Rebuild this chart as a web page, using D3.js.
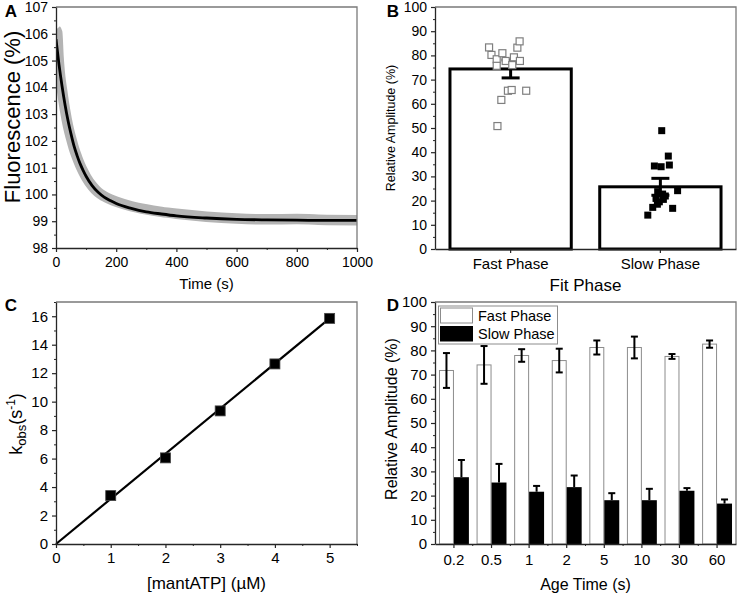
<!DOCTYPE html>
<html><head><meta charset="utf-8">
<script src="https://cdn.jsdelivr.net/npm/d3@7"></script>
<style>body{margin:0;background:#fff} svg{display:block;font-family:"Liberation Sans",Arial,sans-serif}</style>
</head><body><svg id="c" width="738" height="595"></svg>
<script>
// ---------- Panel A data ----------
const timeTicks = [0, 200, 400, 600, 800, 1000];
const timeMinor = [100, 300, 500, 700, 900];
const fluorTicks = [98, 99, 100, 101, 102, 103, 104, 105, 106, 107];
const fluorMinor = [98.5, 99.5, 100.5, 101.5, 102.5, 103.5, 104.5, 105.5, 106.5];
const rawTime  = [0, 4, 8, 12, 16, 20, 25, 30, 40, 50, 60, 70, 80, 90, 100, 120, 140, 160, 180, 200, 250, 300, 350, 400, 450, 500, 600, 700, 800, 900, 1000];
const rawFluor = [106.15, 106.05, 105.2, 104.6, 104.2, 103.9, 103.5, 103.15, 102.55, 102.1, 101.7, 101.38, 101.1, 100.86, 100.65, 100.32, 100.08, 99.93, 99.82, 99.73, 99.56, 99.44, 99.35, 99.28, 99.22, 99.17, 99.1, 99.07, 99.08, 99.05, 99.04];
const fitTime  = [0, 10, 20, 30, 40, 50, 60, 70, 80, 90, 100, 120, 140, 160, 180, 200, 250, 300, 350, 400, 500, 600, 700, 800, 900, 1000];
const fitFluor = [105.8, 104.85, 104.05, 103.35, 102.75, 102.25, 101.8, 101.45, 101.15, 100.9, 100.68, 100.33, 100.08, 99.9, 99.77, 99.66, 99.48, 99.35, 99.27, 99.2, 99.12, 99.07, 99.05, 99.04, 99.03, 99.03];

// ---------- Panel B data ----------
const phaseCategories = ["Fast Phase", "Slow Phase"];
const phaseMeans = [74.4, 25.7];
const phaseErrors = [3.7, 3.5];
const ampTicks = [0, 10, 20, 30, 40, 50, 60, 70, 80, 90, 100];
const ampMinor = [5, 15, 25, 35, 45, 55, 65, 75, 85, 95];
const fastPoints = [83.3, 80.2, 78.4, 75.7, 80.9, 77.7, 76.0, 79.2, 83.2, 85.8, 77.7, 65.4, 65.7, 65.4, 61.6, 50.8];
const fastJitter = [-0.144, -0.128, -0.093, -0.093, -0.055, -0.033, 0.011, 0.022, 0.045, 0.06, 0.062, -0.018, 0.007, 0.104, -0.062, -0.088];
const slowPoints = [48.9, 38.4, 34.3, 34.0, 34.7, 24.1, 22.7, 23.7, 20.9, 19.5, 17.2, 16.8, 14.0, 21.9, 20.5, 18.5];
const slowJitter = [0.009, 0.053, -0.04, 0.005, 0.06, 0.115, 0.015, -0.018, -0.029, -0.007, -0.051, 0.082, -0.084, 0.033, 0.02, -0.02];

// ---------- Panel C data ----------
const mantATP = [1, 2, 3, 4, 5];
const kobs = [3.4, 6.05, 9.35, 12.65, 15.85];
const kobsErr = [0.25, 0.2, 0.2, 0.2, 0.2];
const fitATP = [0, 5];
const fitKobs = [0, 15.85];
const atpTicks = [0, 1, 2, 3, 4, 5];
const atpMinor = [0.5, 1.5, 2.5, 3.5, 4.5, 5.5];
const kobsTicks = [0, 2, 4, 6, 8, 10, 12, 14, 16];
const kobsMinor = [1, 3, 5, 7, 9, 11, 13, 15, 17];

// ---------- Panel D data ----------
const ageTimes = ["0.2", "0.5", "1", "2", "5", "10", "30", "60"];
const fastAmp = [71.7, 74.0, 77.9, 75.8, 81.2, 81.2, 77.5, 82.6];
const fastErr = [7.2, 7.8, 2.6, 4.9, 2.9, 4.5, 1.0, 1.5];
const slowAmp = [27.6, 25.4, 21.6, 23.5, 18.1, 18.1, 22.0, 16.7];
const slowErr = [7.1, 7.7, 2.4, 4.8, 2.9, 4.7, 1.1, 1.7];
const seriesNames = ["Fast Phase", "Slow Phase"];

// ---------- drawing ----------
const svg = d3.select("#c");
svg.append("rect").attr("width", 738).attr("height", 595).attr("fill", "#fff");
const AX = "#262626", FR = "#7a7a7a", FONT = '"Liberation Sans",Arial,sans-serif';

function styleAxis(a, fs) {
  a.attr("font-family", FONT).attr("font-size", fs);
  a.select(".domain").attr("stroke", AX).attr("stroke-width", 1.3);
  a.selectAll(".tick line").attr("stroke", AX).attr("stroke-width", 1.2);
  a.selectAll(".tick text").attr("fill", "#000");
}
function frame(x0, x1, y0, y1) {
  svg.append("path").attr("d", `M${x0},${y0}H${x1}V${y1}`).attr("fill", "none").attr("stroke", FR).attr("stroke-width", 1.3);
}
function yAxis(y, x0, ticks, minor, fs, fmt) {
  const a = svg.append("g").attr("transform", `translate(${x0},0)`)
    .call(d3.axisLeft(y).tickValues(ticks).tickSize(4).tickSizeOuter(0).tickPadding(4).tickFormat(fmt || d3.format("")));
  styleAxis(a, fs);
  const m = svg.append("g").attr("transform", `translate(${x0},0)`)
    .call(d3.axisLeft(y).tickValues(minor).tickSize(2).tickSizeOuter(0).tickFormat(""));
  m.select(".domain").remove(); m.selectAll("line").attr("stroke", AX);
}
function xAxisLin(x, y0, ticks, minor, fs, pad) {
  const a = svg.append("g").attr("transform", `translate(0,${y0})`)
    .call(d3.axisBottom(x).tickValues(ticks).tickSize(4).tickSizeOuter(0).tickPadding(pad).tickFormat(d3.format("")));
  styleAxis(a, fs);
  const m = svg.append("g").attr("transform", `translate(0,${y0})`)
    .call(d3.axisBottom(x).tickValues(minor).tickSize(2).tickSizeOuter(0).tickFormat(""));
  m.select(".domain").remove(); m.selectAll("line").attr("stroke", AX);
}
function label(txt, x, y, fs, opts = {}) {
  const t = svg.append("text").attr("x", x).attr("y", y).attr("font-size", fs).attr("font-family", FONT)
    .attr("text-anchor", opts.anchor || "middle").attr("fill", "#000").text(txt);
  if (opts.bold) t.attr("font-weight", "bold");
  if (opts.rot) t.attr("transform", `rotate(-90,${x},${y})`);
  return t;
}

// ===== Panel A =====
{
  const L = 56, R = 357, T = 7, B = 248;
  const x = d3.scaleLinear().domain([0, 1000]).range([L, R]);
  const y = d3.scaleLinear().domain([98, 107]).range([B, T]);
  svg.append("clipPath").attr("id", "clipA").append("rect").attr("x", L).attr("y", T).attr("width", R - L).attr("height", B - T);
  const g = svg.append("g").attr("clip-path", "url(#clipA)");
  const raw = rawTime.map((t, i) => [t, rawFluor[i]]);
  const fit = fitTime.map((t, i) => [t, fitFluor[i]]);
  const line = d3.line().x(d => x(d[0])).y(d => y(d[1])).curve(d3.curveMonotoneX);
  g.append("path").attr("d", line(raw)).attr("fill", "none").attr("stroke", "#b4b4b4").attr("stroke-width", 10.5);
  g.append("path").attr("d", line(fit)).attr("fill", "none").attr("stroke", "#000").attr("stroke-width", 2.8);
  frame(L, R, T, B);
  yAxis(y, L, fluorTicks, fluorMinor, 14);
  xAxisLin(x, B, timeTicks, timeMinor, 14, 5);
  label("Time (s)", (L + R) / 2, 289, 15);
  label("Fluorescence (%)", 20, 117, 22, { rot: true });
  label("A", 11, 17, 17, { bold: true });
}

// ===== Panel B =====
{
  const L = 435, R = 736, T = 7, B = 249;
  const x = d3.scaleBand().domain(phaseCategories).range([L, R]).paddingInner(0.19).paddingOuter(0.1);
  const y = d3.scaleLinear().domain([0, 100]).range([B, T]);
  const bw = x.bandwidth();
  svg.append("g").selectAll("rect").data(phaseCategories).join("rect")
    .attr("x", d => x(d)).attr("width", bw)
    .attr("y", (d, i) => y(phaseMeans[i])).attr("height", (d, i) => B - y(phaseMeans[i]))
    .attr("fill", "#fff").attr("stroke", "#000").attr("stroke-width", 3);
  const eb = svg.append("g").attr("stroke", "#000").attr("stroke-width", 3);
  phaseCategories.forEach((c, i) => {
    const cx = x(c) + bw / 2;
    eb.append("line").attr("x1", cx).attr("x2", cx).attr("y1", y(phaseMeans[i] - phaseErrors[i])).attr("y2", y(phaseMeans[i] + phaseErrors[i]));
    [phaseMeans[i] - phaseErrors[i], phaseMeans[i] + phaseErrors[i]].forEach(v =>
      eb.append("line").attr("x1", cx - 9).attr("x2", cx + 9).attr("y1", y(v)).attr("y2", y(v)));
  });
  const s = 7;
  const cF = x("Fast Phase") + bw / 2, cS = x("Slow Phase") + bw / 2, step = x.step();
  svg.append("g").selectAll("rect").data(fastPoints).join("rect")
    .attr("x", (d, i) => cF + fastJitter[i] * step - s / 2).attr("y", d => y(d) - s / 2)
    .attr("width", s).attr("height", s).attr("fill", "#fff").attr("stroke", "#7f7f7f").attr("stroke-width", 1.2);
  svg.append("g").selectAll("rect").data(slowPoints).join("rect")
    .attr("x", (d, i) => cS + slowJitter[i] * step - s / 2).attr("y", d => y(d) - s / 2)
    .attr("width", s).attr("height", s).attr("fill", "#000");
  frame(L, R, T, B);
  yAxis(y, L, ampTicks, ampMinor, 14);
  const a = svg.append("g").attr("transform", `translate(0,${B})`)
    .call(d3.axisBottom(x).tickSize(4).tickSizeOuter(0).tickPadding(5));
  styleAxis(a, 15);
  label("Fit Phase", (L + R) / 2, 291, 17);
  label("Relative Amplitude (%)", 395, 128, 12.5, { rot: true });
  label("B", 393, 17, 17, { bold: true });
}

// ===== Panel C =====
{
  const L = 56, R = 357, T = 302, B = 544;
  const x = d3.scaleLinear().domain([0, 5.5]).range([L, R]);
  const y = d3.scaleLinear().domain([0, 17]).range([B, T]);
  const fit = fitATP.map((v, i) => [v, fitKobs[i]]);
  svg.append("path").attr("d", d3.line().x(d => x(d[0])).y(d => y(d[1]))(fit))
    .attr("fill", "none").attr("stroke", "#000").attr("stroke-width", 2.2);
  const eg = svg.append("g").attr("stroke", "#000").attr("stroke-width", 1.5);
  mantATP.forEach((m, i) => {
    eg.append("line").attr("x1", x(m)).attr("x2", x(m)).attr("y1", y(kobs[i] - kobsErr[i])).attr("y2", y(kobs[i] + kobsErr[i]));
  });
  const s = 10;
  svg.append("g").selectAll("rect").data(mantATP).join("rect")
    .attr("x", d => x(d) - s / 2).attr("y", (d, i) => y(kobs[i]) - s / 2)
    .attr("width", s).attr("height", s).attr("fill", "#000").attr("stroke", "#444").attr("stroke-width", 0.8);
  frame(L, R, T, B);
  yAxis(y, L, kobsTicks, kobsMinor, 15);
  xAxisLin(x, B, atpTicks, atpMinor, 15, 4.5);
  label("[mantATP] (\u00b5M)", (L + R) / 2, 589, 17);
  const t = svg.append("text").attr("transform", "translate(22,424) rotate(-90)").attr("text-anchor", "middle")
    .attr("font-family", FONT).attr("font-size", 18).attr("fill", "#000");
  t.append("tspan").text("k");
  t.append("tspan").attr("font-size", 13).attr("dy", 4).text("obs");
  t.append("tspan").attr("dy", -4).text("(s");
  t.append("tspan").attr("font-size", 12).attr("dy", -7).text("-1");
  t.append("tspan").attr("dy", 7).text(")");
  label("C", 11, 311, 17, { bold: true });
}

// ===== Panel D =====
{
  const L = 435, R = 736, T = 302, B = 544;
  const x = d3.scaleBand().domain(ageTimes).range([L, R]).paddingInner(0.204).paddingOuter(0.106);
  const x1 = d3.scaleBand().domain(seriesNames).range([0, x.bandwidth()]);
  const y = d3.scaleLinear().domain([0, 100]).range([B, T]);
  const vals = { "Fast Phase": fastAmp, "Slow Phase": slowAmp };
  const errs = { "Fast Phase": fastErr, "Slow Phase": slowErr };
  const groups = svg.append("g").selectAll("g").data(ageTimes).join("g").attr("transform", d => `translate(${x(d)},0)`);
  groups.each(function (a, i) {
    const g = d3.select(this);
    seriesNames.forEach((sn, k) => {
      const v = vals[sn][i], e = errs[sn][i];
      g.append("rect").attr("x", x1(sn) + (k === 0 ? 0.5 : 0)).attr("width", x1.bandwidth() - (k === 0 ? 1 : 0))
        .attr("y", y(v)).attr("height", B - y(v))
        .attr("fill", k === 0 ? "#fff" : "#000").attr("stroke", k === 0 ? "#8c8c8c" : "none").attr("stroke-width", 1);
      const cx = x1(sn) + x1.bandwidth() / 2;
      const lo = k === 0 ? v - e : v;
      g.append("line").attr("x1", cx).attr("x2", cx).attr("y1", y(lo)).attr("y2", y(v + e)).attr("stroke", "#000").attr("stroke-width", 2);
      const capVals = k === 0 ? [v - e, v + e] : [v + e];
      capVals.forEach(cv => g.append("line").attr("x1", cx - 3.5).attr("x2", cx + 3.5).attr("y1", y(cv)).attr("y2", y(cv))
        .attr("stroke", "#000").attr("stroke-width", 2));
    });
  });
  frame(L, R, T, B);
  yAxis(y, L, ampTicks, ampMinor, 15);
  const a = svg.append("g").attr("transform", `translate(0,${B})`)
    .call(d3.axisBottom(x).tickSize(4).tickSizeOuter(0).tickPadding(6));
  styleAxis(a, 15);
  svg.append("g").selectAll("line").data(ageTimes.slice(1)).join("line")
    .attr("x1", d => x(d) - x.step() * x.paddingInner() / 2).attr("x2", d => x(d) - x.step() * x.paddingInner() / 2)
    .attr("y1", B).attr("y2", B + 2).attr("stroke", AX);
  const lg = svg.append("g");
  lg.append("rect").attr("x", 438.5).attr("y", 306).attr("width", 119).attr("height", 38).attr("fill", "#fff").attr("stroke", "#8c8c8c");
  lg.append("rect").attr("x", 440.5).attr("y", 308).attr("width", 32).attr("height", 15).attr("fill", "#fff").attr("stroke", "#8c8c8c");
  lg.append("rect").attr("x", 440).attr("y", 326).attr("width", 33).attr("height", 15.5).attr("fill", "#000");
  label(seriesNames[0], 478, 320.5, 14.5, { anchor: "start" });
  label(seriesNames[1], 478, 338.5, 14.5, { anchor: "start" });
  label("Age Time (s)", (L + R) / 2, 590, 16);
  label("Relative Amplitude (%)", 397, 419, 16, { rot: true });
  label("D", 393, 311, 17, { bold: true });
}
</script></body></html>
